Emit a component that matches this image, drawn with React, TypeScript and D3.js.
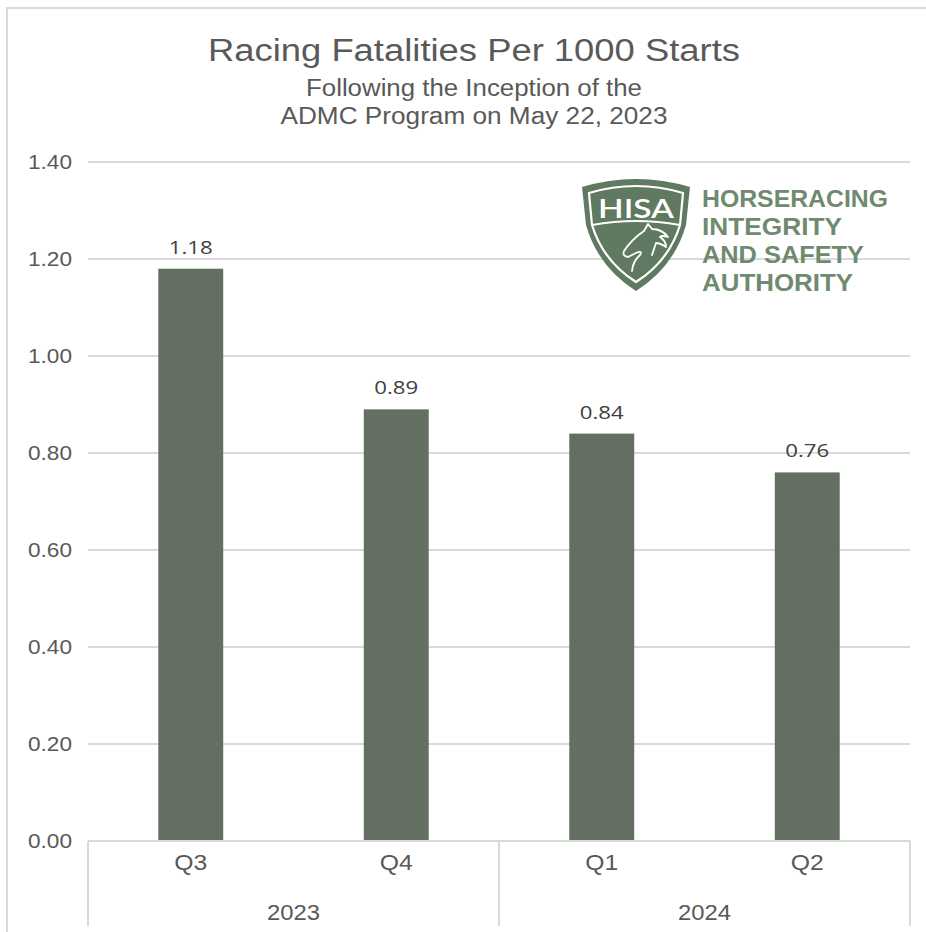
import React from "react";
import * as d3 from "d3";

const quarters = ["Q3", "Q4", "Q1", "Q2"];
const years = ["2023", "2023", "2024", "2024"];
const yearGroups = ["2023", "2024"];
const rates = [1.18, 0.89, 0.84, 0.76];
const yTicks = [0, 0.2, 0.4, 0.6, 0.8, 1.0, 1.2, 1.4];
const logoLines = ["HORSERACING", "INTEGRITY", "AND SAFETY", "AUTHORITY"];
const logoWidths = [186, 140, 162, 151];

const W = 926;
const H = 932;
const margin = { top: 162, right: 16, bottom: 91, left: 88 };
const barColor = "#637061";
const textColor = "#595959";
const gridColor = "#d9d9d9";
const logoGreen = "#5f7a60";
const arial = "'Liberation Sans', Arial, sans-serif";

const Logo = ({ x, y }: { x: number; y: number }) => (
  <g transform={`translate(${x},${y})`}>
    <path d="M0,6 Q54,-10 108,6 L104,44 Q92,86 54,110 Q16,86 4,44 Z" fill={logoGreen} />
    <path
      d="M7,12 Q54,-2 101,12 L98,44 Q87,80 54,101 Q21,80 10,44 Z"
      fill="none"
      stroke="white"
      strokeWidth={2.2}
    />
    <path d="M10,44 Q54,36 98,44" fill="none" stroke="white" strokeWidth={2.2} />
    <text
      x={54}
      y={37}
      textAnchor="middle"
      fill="white"
      fontFamily="Lato, 'Open Sans', sans-serif"
      fontSize={27}
      fontWeight={600}
      textLength={76}
      lengthAdjust="spacingAndGlyphs"
    >
      HISA
    </text>
    <path
      d="M50,90 Q51,80 58,74 Q61,69 54,72 L46,76 Q40,75 42,70 Q50,58 62,50 L66,43 L70,48 Q80,48 86,56 Q80,54 78,56 Q84,60 84,66 Q78,62 74,62 Q72,68 70,74"
      fill="none"
      stroke="white"
      strokeWidth={1.8}
      strokeLinejoin="round"
      strokeLinecap="round"
    />
  </g>
);

export default function App() {
  const innerW = W - margin.left - margin.right;
  const baseY = 841;
  const keys = quarters.map((q, i) => years[i] + q);

  const x = d3
    .scaleBand<string>()
    .domain(keys)
    .range([margin.left, margin.left + innerW])
    .paddingInner(0.684)
    .paddingOuter(0.342);
  const y = d3.scaleLinear().domain([0, 1.4]).range([baseY, margin.top]);
  const fmt = d3.format(".2f");

  const groupX = (g: string) => {
    const ks = keys.filter((k, i) => years[i] === g);
    const step = x.step();
    const x0 = x(ks[0])! - (x.paddingInner() * step) / 2;
    return { x0, x1: x0 + step * ks.length };
  };

  const axisBottom = H - 6;

  return (
    <svg width={W} height={H} style={{ position: "absolute", left: 0, top: 0 }}>
      <rect x={0} y={0} width={W} height={H} fill="white" />
      <path d={`M7,${H} V8 H${W}`} fill="none" stroke="#d9d9d9" strokeWidth={2} />

      <text x={474} y={61} textAnchor="middle" fill={textColor} fontFamily={arial} fontSize={31}
        textLength={532} lengthAdjust="spacingAndGlyphs">
        Racing Fatalities Per 1000 Starts
      </text>
      <text x={474} y={96} textAnchor="middle" fill={textColor} fontFamily={arial} fontSize={23}
        textLength={336} lengthAdjust="spacingAndGlyphs">
        Following the Inception of the
      </text>
      <text x={474} y={124} textAnchor="middle" fill={textColor} fontFamily={arial} fontSize={23}
        textLength={387} lengthAdjust="spacingAndGlyphs">
        ADMC Program on May 22, 2023
      </text>

      {yTicks.map((t) => (
        <g key={t}>
          <line x1={margin.left} x2={margin.left + innerW} y1={y(t)} y2={y(t)} stroke={gridColor} strokeWidth={2} />
          <text x={72} y={y(t)} dy="0.35em" textAnchor="end" fill={textColor} fontFamily={arial} fontSize={20}
            textLength={44} lengthAdjust="spacingAndGlyphs">
            {fmt(t)}
          </text>
        </g>
      ))}

      <Logo x={582} y={181} />
      {logoLines.map((l, i) => (
        <text key={l} x={702} y={207 + i * 28} fill="#6f8a6e" fontFamily={arial} fontSize={24.5}
          fontWeight={700} textLength={logoWidths[i]} lengthAdjust="spacingAndGlyphs">
          {l}
        </text>
      ))}

      {rates.map((v, i) => {
        const key = keys[i];
        const bx = x(key)!;
        const cx = bx + x.bandwidth() / 2;
        return (
          <g key={key}>
            <rect x={bx} y={y(v)} width={x.bandwidth()} height={y(0) - y(v)} fill={barColor} />
            <text x={cx} y={y(v) - 15} textAnchor="middle" fill="#404040"
              fontFamily="'Open Sans', 'Noto Sans', sans-serif" fontSize={19}
              textLength={44} lengthAdjust="spacingAndGlyphs">
              {fmt(v)}
            </text>
            <text x={cx} y={870} textAnchor="middle" fill={textColor} fontFamily={arial} fontSize={22}
              textLength={33} lengthAdjust="spacingAndGlyphs">
              {quarters[i]}
            </text>
          </g>
        );
      })}

      <line x1={margin.left} x2={margin.left + innerW} y1={y(0)} y2={y(0)} stroke={gridColor} strokeWidth={2} />
      {yearGroups.map((g) => {
        const { x0, x1 } = groupX(g);
        return (
          <g key={g}>
            <line x1={x0} x2={x0} y1={y(0)} y2={axisBottom} stroke={gridColor} strokeWidth={2} />
            <line x1={x1} x2={x1} y1={y(0)} y2={axisBottom} stroke={gridColor} strokeWidth={2} />
            <text x={(x0 + x1) / 2} y={920} textAnchor="middle" fill={textColor} fontFamily={arial} fontSize={22}
              textLength={53} lengthAdjust="spacingAndGlyphs">
              {g}
            </text>
          </g>
        );
      })}
    </svg>
  );
}
